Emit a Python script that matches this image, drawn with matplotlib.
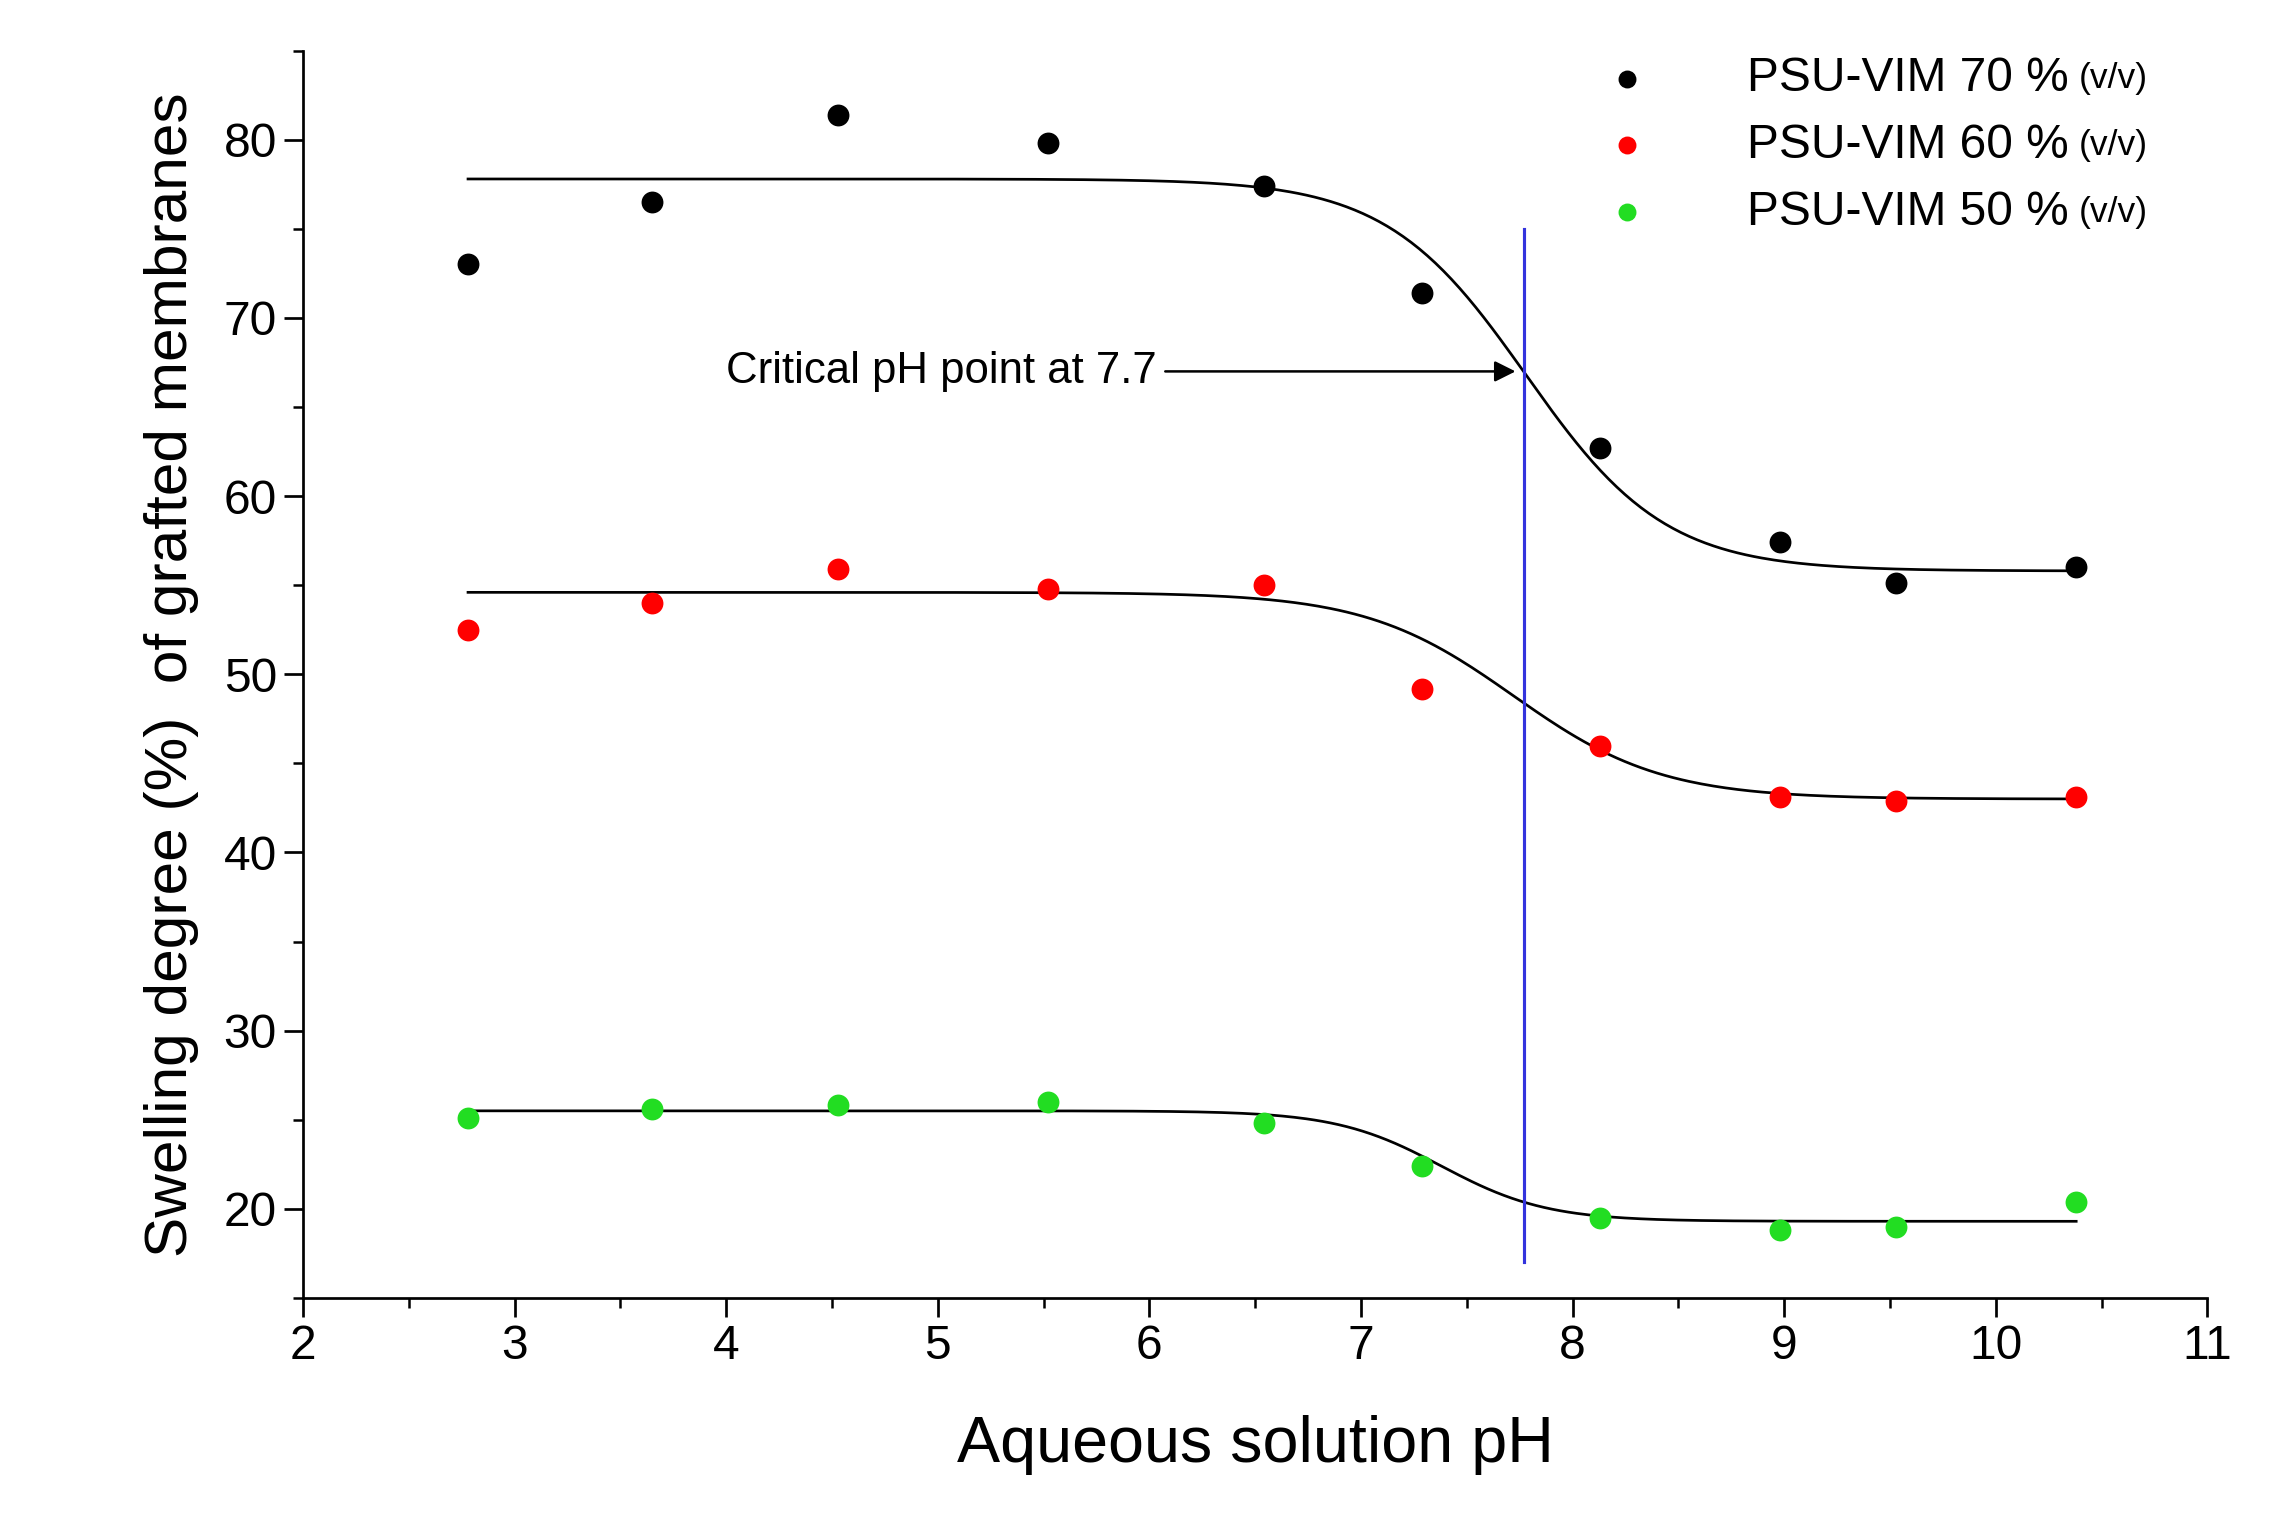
import numpy as np
import matplotlib.pyplot as plt
from matplotlib.ticker import MultipleLocator

plt.rcParams['font.family'] = ['Liberation Sans', 'DejaVu Sans']

ph = [2.78, 3.65, 4.53, 5.52, 6.54, 7.29, 8.13, 8.98, 9.53, 10.38]
sd70 = [73.0, 76.5, 81.4, 79.8, 77.4, 71.4, 62.7, 57.4, 55.1, 56.0]
sd60 = [52.5, 54.0, 55.9, 54.8, 55.0, 49.2, 46.0, 43.1, 42.9, 43.1]
sd50 = [25.1, 25.6, 25.8, 26.0, 24.8, 22.4, 19.5, 18.8, 19.0, 20.4]

# Boltzmann fit parameters (top, bottom, x0, dx)
fit70 = (77.8, 55.8, 7.78, 0.33)
fit60 = (54.6, 43.0, 7.72, 0.35)
fit50 = (25.5, 19.3, 7.38, 0.25)

labels = ["PSU-VIM 70 %", "PSU-VIM 60 %", "PSU-VIM 50 %"]
colors = ["black", "red", "#22dd22"]

def boltz(x, a1, a2, x0, dx):
    return a2 + (a1 - a2) / (1 + np.exp((x - x0) / dx))

fig = plt.figure(figsize=(2278 / 150, 1536 / 150), dpi=150)
ax = fig.add_axes([0.133, 0.155, 0.836, 0.812])

xx = np.linspace(min(ph), max(ph), 400)
for ys, fit, lab, c in zip([sd70, sd60, sd50], [fit70, fit60, fit50], labels, colors):
    ax.plot(xx, boltz(xx, *fit), color="black", lw=1.3)
    ax.scatter(ph, ys, s=90, color=c, label=lab, zorder=3)

ax.plot([7.77, 7.77], [17, 75], color="#3333dd", lw=1.5)
ax.annotate("Critical pH point at 7.7", xy=(7.75, 67), xytext=(4.0, 67),
            fontsize=21, va="center",
            arrowprops=dict(arrowstyle="-|>", color="black", lw=1.2))

ax.set_xlim(2, 11)
ax.set_ylim(15, 85)
ax.xaxis.set_major_locator(MultipleLocator(1))
ax.xaxis.set_minor_locator(MultipleLocator(0.5))
ax.yaxis.set_minor_locator(MultipleLocator(5))
ax.set_yticks([20, 30, 40, 50, 60, 70, 80])
ax.tick_params(which="major", length=9, width=1.3, labelsize=23, direction="out")
ax.tick_params(which="minor", length=5, width=1.2, direction="out")
for s in ["top", "right"]:
    ax.spines[s].set_visible(False)
for s in ["left", "bottom"]:
    ax.spines[s].set_linewidth(1.3)

ax.set_xlabel("Aqueous solution pH", fontsize=31, labelpad=22)
ax.set_ylabel("Swelling degree (%)  of grafted membranes", fontsize=29, labelpad=12)

leg = ax.legend(loc="upper right", bbox_to_anchor=(0.95, 1.03), frameon=False,
                fontsize=23, handletextpad=1.5, labelspacing=0.45, markerscale=0.8)
fig.canvas.draw()
for t in leg.get_texts():
    bb = t.get_window_extent().transformed(ax.transAxes.inverted())
    ax.text(bb.x1 + 0.005, (bb.y0 + bb.y1) / 2, "(v/v)", transform=ax.transAxes,
            fontsize=17, va="center")

fig.savefig("out.png", dpi=150)
